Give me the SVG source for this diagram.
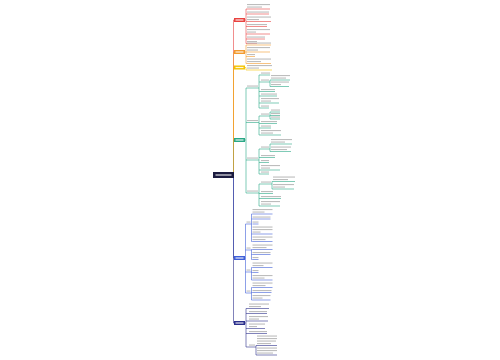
<svg xmlns="http://www.w3.org/2000/svg" width="500" height="360" viewBox="0 0 500 360">
<style>
.t{fill:#bdbdbd}
.w{fill:#fff;opacity:.85}
path{fill:none;stroke-width:.6}
.r{stroke:#e8423f}.o{stroke:#f29a2e}.y{stroke:#f4c300}.g{stroke:#2aa886}.b{stroke:#3f5fd8}.n{stroke:#2b2f8c}
</style>
<rect width="500" height="360" fill="#fff"/>
<g id="connectors">
<path class="r" d="M233.5 172V20H234M245 20H246M246 9V43.5M246 9H247M246 14H247M246 21.5H247M246 26.5H247M246 34H247M246 39H247M246 43.5H247"/>
<path class="y" d="M233.5 172V67.5H234M245 67.5H246V70H247"/>
<path class="g" d="M233.5 172V140H234M245 140H246M246 88V193M246 88H247M246 122.5H247M246 160H247M246 193H247
M258 88H259M259 75V108M259 75H261M259 82H261M259 91.5H261M259 96H261M259 103H261M259 108H261M269 82H270M270 80V86.5M270 80H271M270 86.5H271
M258 122.5H259M259 116V135M259 116H261M259 123.5H261M259 128H261M259 135H261M269 116H270M270 112V119M270 112H271M270 115.5H271M270 119H271
M258 160H259M259 149V174M259 149H261M259 157.5H261M259 162.5H261M259 170H261M259 174H261M269 149H270M270 144V151.5M270 144H271M270 151.5H271
M258 193H259M259 184V206M259 184H261M259 193.5H261M259 198.5H261M259 206H261M271 184H272M272 181.5V189M272 181.5H273M272 189H273"/>
<path class="o" d="M233.5 172V52H234M245 52H246M246 45V63.5M246 45H247M246 52H247M246 56.5H247M246 63.5H247"/>
<path class="b" d="M233.5 178V258H234M245 258H245.5M245.5 224V293M245.5 224H246M245.5 250H246M245.5 272H246M245.5 293H246
M251 224H251.5M251.5 214V241.5M251.5 214H252.5M251.5 219H252.5M251.5 234H252.5M251.5 241.5H252.5
M251 250H251.5M251.5 249.5V259.5M251.5 254.5H252.5M251.5 259.5H252.5M251.5 249.5H252.5
M251 272H251.5M251.5 267.5V280M251.5 267.5H252.5M251.5 272.5H252.5M251.5 280H252.5
M251 293H251.5M251.5 287.5V300M251.5 287.5H252.5M251.5 292.5H252.5M251.5 300H252.5"/>
<path class="n" d="M233.5 178V323H234M245 323H246M246 308.5V347M246 308.5H249M246 313.5H249M246 321H249M246 328.5H249M246 333.5H249M246 347H249M255 347H256M256 345.5V355M256 345.5H257M256 355H257"/>
</g>
<g id="root">
<rect x="213" y="172" width="21" height="6" fill="#1b1b3f"/>
<rect class="w" x="215.5" y="174.4" width="16" height="1.2"/>
</g>
<g id="branch-red">
<rect x="234" y="18" width="11" height="4" fill="#e8423f"/>
<rect class="w" x="235.5" y="19.4" width="8" height="1.2"/>
<rect class="t" x="247" y="4" width="23" height="1.1"/><rect class="t" x="247" y="6.5" width="15" height="1.1"/>
<rect class="t" x="247" y="11.5" width="22" height="1.1"/>
<rect class="t" x="247" y="16.5" width="24" height="1.1"/><rect class="t" x="247" y="19" width="12" height="1.1"/>
<rect class="t" x="247" y="24" width="20" height="1.1"/>
<rect class="t" x="247" y="29" width="23" height="1.1"/><rect class="t" x="247" y="31.5" width="9" height="1.1"/>
<rect class="t" x="247" y="36.5" width="18" height="1.1"/>
<rect class="t" x="247" y="41" width="10" height="1.1"/>
<path class="r" d="M247 9h23M247 14h22M247 21.5h24M247 26.5h20M247 34h23M247 39h18M247 43.5h10"/>
</g>
<g id="branch-orange">
<rect x="234" y="50" width="11" height="4" fill="#f29a2e"/>
<rect class="w" x="235.5" y="51.4" width="8" height="1.2"/>
<rect class="t" x="247" y="42.5" width="24" height="1.1"/>
<rect class="t" x="247" y="47" width="23" height="1.1"/><rect class="t" x="247" y="49.5" width="11" height="1.1"/>
<rect class="t" x="247" y="54" width="8" height="1.1"/>
<rect class="t" x="247" y="58.5" width="24" height="1.1"/><rect class="t" x="247" y="61" width="14" height="1.1"/>
<path class="o" d="M247 45h24M247 52h23M247 56.5h8M247 63.5h24"/>
</g>
<g id="branch-yellow">
<rect x="234" y="65.5" width="11" height="4" fill="#f4c300"/>
<rect class="w" x="235.5" y="66.9" width="8" height="1.2"/>
<rect class="t" x="247" y="65" width="25" height="1.1"/><rect class="t" x="247" y="67.5" width="12" height="1.1"/>
<path class="y" d="M247 70h25"/>
</g>
<g id="branch-teal">
<rect x="234" y="138" width="11" height="4" fill="#2aa886"/>
<rect class="w" x="235.5" y="139.4" width="8" height="1.2"/>
<rect class="t" x="247" y="85.5" width="11" height="1.1"/>
<rect class="t" x="261" y="72.5" width="9" height="1.1"/>
<rect class="t" x="261" y="79.5" width="8" height="1.1"/>
<rect class="t" x="271" y="75" width="19" height="1.1"/><rect class="t" x="271" y="77.5" width="15" height="1.1"/>
<rect class="t" x="271" y="81.5" width="18" height="1.1"/><rect class="t" x="271" y="84" width="10" height="1.1"/>
<rect class="t" x="261" y="89" width="14" height="1.1"/>
<rect class="t" x="261" y="93.5" width="16" height="1.1"/>
<rect class="t" x="261" y="98" width="18" height="1.1"/><rect class="t" x="261" y="100.5" width="10" height="1.1"/>
<rect class="t" x="261" y="105.5" width="8" height="1.1"/>
<rect class="t" x="247" y="120" width="11" height="1.1"/>
<rect class="t" x="261" y="113.5" width="8" height="1.1"/>
<rect class="t" x="271" y="109.5" width="9" height="1.1"/><rect class="t" x="271" y="113" width="9" height="1.1"/><rect class="t" x="271" y="116.5" width="9" height="1.1"/>
<rect class="t" x="261" y="121" width="16" height="1.1"/>
<rect class="t" x="261" y="125.5" width="10" height="1.1"/>
<rect class="t" x="261" y="130" width="20" height="1.1"/><rect class="t" x="261" y="132.5" width="12" height="1.1"/>
<rect class="t" x="247" y="157.5" width="11" height="1.1"/>
<rect class="t" x="261" y="146.5" width="8" height="1.1"/>
<rect class="t" x="271" y="139" width="21" height="1.1"/><rect class="t" x="271" y="141.5" width="14" height="1.1"/>
<rect class="t" x="271" y="146.5" width="20" height="1.1"/><rect class="t" x="271" y="149" width="16" height="1.1"/>
<rect class="t" x="261" y="155" width="14" height="1.1"/>
<rect class="t" x="261" y="160" width="8" height="1.1"/>
<rect class="t" x="261" y="165" width="19" height="1.1"/><rect class="t" x="261" y="167.5" width="9" height="1.1"/>
<rect class="t" x="261" y="171.5" width="8" height="1.1"/>
<rect class="t" x="247" y="190.5" width="11" height="1.1"/>
<rect class="t" x="261" y="181.5" width="10" height="1.1"/>
<rect class="t" x="273" y="176.5" width="22" height="1.1"/><rect class="t" x="273" y="179" width="15" height="1.1"/>
<rect class="t" x="273" y="184" width="21" height="1.1"/><rect class="t" x="273" y="186.5" width="12" height="1.1"/>
<rect class="t" x="261" y="191" width="12" height="1.1"/>
<rect class="t" x="261" y="196" width="20" height="1.1"/>
<rect class="t" x="261" y="201" width="19" height="1.1"/><rect class="t" x="261" y="203.5" width="10" height="1.1"/>
<path class="g" d="M247 88h11M261 75h9M261 82h8M271 80h19M271 86.5h18M261 91.5h14M261 96h16M261 103h18M261 108h8
M247 122.5h11M261 116h8M271 112h9M271 115.5h9M271 119h9M261 123.5h16M261 128h10M261 135h20
M247 160h11M261 149h8M271 144h21M271 151.5h20M261 157.5h14M261 162.5h8M261 170h19M261 174h8
M247 193h11M261 184h10M273 181.5h22M273 189h21M261 193.5h12M261 198.5h20M261 206h19"/>
</g>
<g id="branch-blue">
<rect x="234" y="256" width="11" height="4" fill="#3f5fd8"/>
<rect class="w" x="235.5" y="257.4" width="8" height="1.2"/>
<rect class="t" x="246.5" y="221.5" width="4" height="1.1"/>
<rect class="t" x="252.5" y="209" width="20" height="1.1"/><rect class="t" x="252.5" y="211.5" width="12" height="1.1"/>
<rect class="t" x="252.5" y="216.5" width="18" height="1.1"/>
<rect class="t" x="252.5" y="221.5" width="6" height="1.1"/>
<rect class="t" x="252.5" y="226.5" width="20" height="1.1"/><rect class="t" x="252.5" y="229" width="20" height="1.1"/><rect class="t" x="252.5" y="231.5" width="8" height="1.1"/>
<rect class="t" x="252.5" y="236.5" width="20" height="1.1"/><rect class="t" x="252.5" y="239" width="13" height="1.1"/>
<rect class="t" x="246.5" y="247.5" width="4" height="1.1"/>
<rect class="t" x="252.5" y="244.5" width="20" height="1.1"/><rect class="t" x="252.5" y="247" width="14" height="1.1"/>
<rect class="t" x="252.5" y="252" width="18" height="1.1"/>
<rect class="t" x="252.5" y="257" width="6" height="1.1"/>
<rect class="t" x="246.5" y="269.5" width="4" height="1.1"/>
<rect class="t" x="252.5" y="262.5" width="20" height="1.1"/><rect class="t" x="252.5" y="265" width="11" height="1.1"/>
<rect class="t" x="252.5" y="270" width="6" height="1.1"/>
<rect class="t" x="252.5" y="275" width="20" height="1.1"/><rect class="t" x="252.5" y="277.5" width="12" height="1.1"/>
<rect class="t" x="246.5" y="290.5" width="4" height="1.1"/>
<rect class="t" x="252.5" y="282.5" width="20" height="1.1"/><rect class="t" x="252.5" y="285" width="13" height="1.1"/>
<rect class="t" x="252.5" y="290" width="19" height="1.1"/>
<rect class="t" x="252.5" y="295" width="18" height="1.1"/><rect class="t" x="252.5" y="297.5" width="10" height="1.1"/>
<path class="b" d="M246 224h5M252.5 214h20M252.5 219h18M252.5 224h6M252.5 234h20M252.5 241.5h20
M246 250h5M252.5 249.5h20M252.5 254.5h18M252.5 259.5h6
M246 272h5M252.5 267.5h20M252.5 272.5h6M252.5 280h20
M246 293h5M252.5 287.5h20M252.5 292.5h19M252.5 300h18"/>
</g>
<g id="branch-navy">
<rect x="234" y="321" width="11" height="4" fill="#2b2f8c"/>
<rect class="w" x="235.5" y="322.4" width="8" height="1.2"/>
<rect class="t" x="249" y="303.5" width="20" height="1.1"/><rect class="t" x="249" y="306" width="12" height="1.1"/>
<rect class="t" x="249" y="311" width="18" height="1.1"/>
<rect class="t" x="249" y="316" width="19" height="1.1"/><rect class="t" x="249" y="318.5" width="10" height="1.1"/>
<rect class="t" x="249" y="323.5" width="16" height="1.1"/><rect class="t" x="249" y="326" width="8" height="1.1"/>
<rect class="t" x="249" y="331" width="18" height="1.1"/>
<rect class="t" x="249" y="344.5" width="6" height="1.1"/>
<rect class="t" x="257" y="335.5" width="20" height="1.1"/><rect class="t" x="257" y="338" width="20" height="1.1"/><rect class="t" x="257" y="340.5" width="19" height="1.1"/><rect class="t" x="257" y="343" width="14" height="1.1"/>
<rect class="t" x="257" y="347.5" width="20" height="1.1"/><rect class="t" x="257" y="350" width="20" height="1.1"/><rect class="t" x="257" y="352.5" width="16" height="1.1"/>
<path class="n" d="M249 308.5h20M249 313.5h18M249 321h19M249 328.5h16M249 333.5h18M249 347h6M257 345.5h20M257 355h20"/>
</g>
</svg>
